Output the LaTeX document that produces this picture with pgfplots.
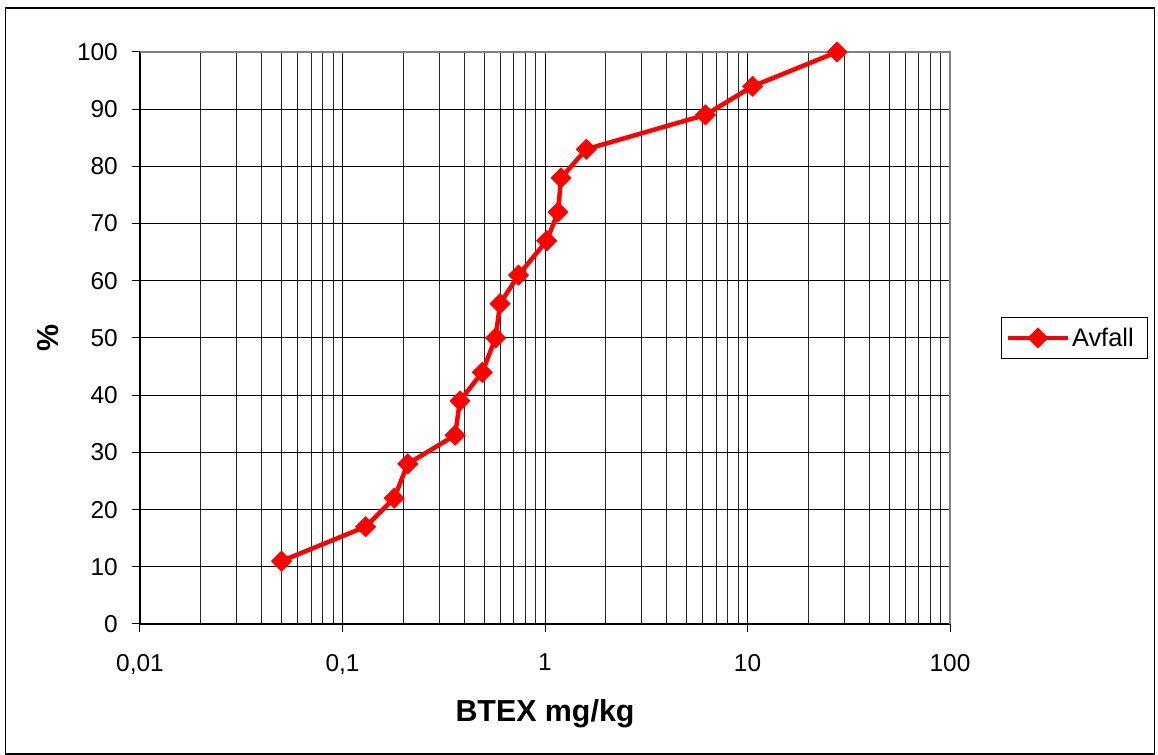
\documentclass[border=0pt]{standalone}
\usepackage{pgfplots}
\pgfplotsset{compat=1.18}
\usepackage{fontspec}
\setmainfont{Liberation Sans}
\begin{document}
\begin{tikzpicture}
\useasboundingbox (0bp,0bp) rectangle (1158bp,755bp);
\draw[black, line width=1.5bp] (5.5bp,0.8bp) rectangle (1154.5bp,747bp);
\begin{axis}[
  at={(140bp,131bp)}, anchor=south west,
  scale only axis, width=810bp, height=572bp,
  xmode=log, xmin=0.01, xmax=100, ymin=0, ymax=100,
  xtick={0.01,0.1,1,10,100},
  xticklabels={{0,01},{0,1},1,10,100},
  ytick={0,10,20,30,40,50,60,70,80,90,100},
  /pgf/number format/assume math mode=true,
  tick label style={font=\fontsize{24.5}{29}\selectfont, inner sep=0pt},
  xticklabel style={anchor=north, yshift=-22bp},
  yticklabel style={anchor=east, xshift=-14bp},
  tick align=outside, tick pos=left,
  major tick length=8bp, minor tick length=0pt,
  tick style={black, line width=1bp},
  xmajorgrids=true, xminorgrids=true, ymajorgrids=true,
  major grid style={black, line width=1bp},
  minor grid style={black!85, line width=1bp},
  axis line style={black, line width=1.5bp},
  clip=false,
  xlabel={\textbf{BTEX mg/kg}},
  ylabel={\textbf{\%}},
  label style={font=\fontsize{30.5}{36}\selectfont},
  xlabel style={at={(axis description cs:0.5,-0.157)}, anchor=center},
  ylabel style={at={(axis description cs:-0.1136,0.5)}, anchor=center, rotate=0},
  legend style={at={(1.063,0.5)}, anchor=west, draw=black, line width=1bp,
    font=\fontsize{25.5}{30}\selectfont, inner xsep=4bp, inner ysep=9bp},
  legend image code/.code={\draw[mark repeat=2,mark phase=2,#1] plot coordinates {(0bp,0bp) (30bp,0bp) (60bp,0bp)};},
]
\draw[black!50, line width=2.5bp] (rel axis cs:0,1) -- (rel axis cs:1,1) -- (rel axis cs:1,0);
\addplot[red, line width=4.5bp, mark=square*, mark size=7.2bp,
  mark options={solid, rotate=45, fill=red, draw=red, line width=0.5bp}]
  coordinates {
  (0.05,11) (0.13,17) (0.18,22) (0.21,28) (0.36,33) (0.38,39) (0.49,44)
  (0.57,50) (0.6,56) (0.74,61) (1.02,67) (1.16,72) (1.2,78) (1.6,83)
  (6.2,89) (10.6,94) (27.7,100)};
\addlegendentry{Avfall\rule{8bp}{0pt}}
\end{axis}
\end{tikzpicture}
\end{document}
